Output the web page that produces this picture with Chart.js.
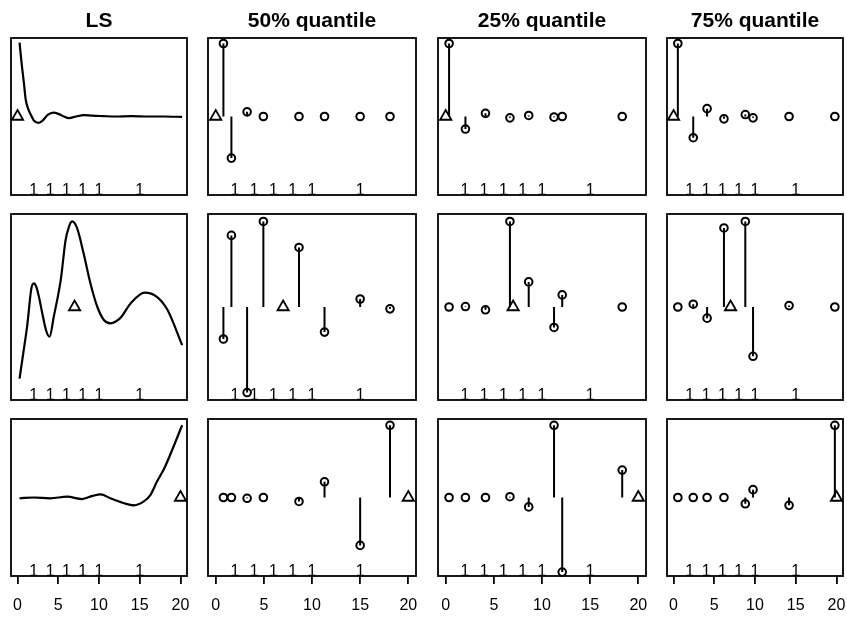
<!DOCTYPE html>
<html>
<head>
<meta charset="utf-8">
<script src="https://cdn.jsdelivr.net/npm/chart.js@4.4.0/dist/chart.umd.min.js"></script>
<style>
  body { margin: 0; background: #fff; }
  #wrap { position: relative; width: 847px; height: 617px; overflow: hidden; }
  #wrap canvas { position: absolute; }
</style>
</head>
<body>
<div id="wrap"></div>
<script>
// column titles and axis
const titles = ['LS', '50% quantile', '25% quantile', '75% quantile'];
const xTicks = [0, 5, 10, 15, 20];
const rugX = [2, 4, 6, 8, 10, 15];
// triangle (true location) for each row
const targetX = [0, 7, 20];
const targetY = [0, 0, 0];

// LS curves, one per row
const lsX1 = [0.25, 0.5, 0.78, 1.0, 1.3, 1.6, 2.0, 2.6, 3.1, 3.7, 4.4, 5.1, 5.7, 6.3, 7.2, 8.1, 9.2, 10.5, 12, 14, 16, 18, 20.2];
const lsY1 = [0.94, 0.68, 0.43, 0.22, 0.10, 0.03, -0.05, -0.08, -0.05, 0.02, 0.05, 0.03, 0.0, -0.02, 0.0, 0.017, 0.01, 0.005, 0.0, 0.005, 0.0, 0.0, -0.005];
const lsX2 = [0.25, 0.7, 1.19, 1.7, 2.0, 2.3, 2.6, 3.0, 3.5, 3.93, 4.46, 5.32, 5.9, 6.3, 6.7, 7.3, 8.1, 8.96, 9.8, 10.6, 11.4, 12.6, 13.9, 15.6, 17.1, 18.4, 20.2];
const lsY2 = [-0.77, -0.50, -0.20, 0.20, 0.255, 0.22, 0.12, -0.05, -0.25, -0.32, -0.10, 0.30, 0.72, 0.86, 0.92, 0.85, 0.58, 0.25, 0.0, -0.14, -0.175, -0.12, 0.04, 0.154, 0.11, -0.03, -0.41];
const lsX3 = [0.25, 2, 4, 6.1, 7.9, 9.2, 10.2, 11.4, 13.0, 14.3, 15.5, 16.3, 17.1, 18.0, 18.8, 20.2];
const lsY3 = [-0.01, 0.0, -0.01, 0.01, -0.02, 0.02, 0.04, -0.01, -0.07, -0.10, -0.05, 0.03, 0.20, 0.37, 0.56, 0.92];

// quantile estimates (circles with stems), one x list per column
const q50X = [0.8, 1.63, 3.26, 4.95, 8.65, 11.3, 15.0, 18.1];
const q50Y1 = [0.93, -0.53, 0.06, 0, 0, 0, 0, 0];
const q50Y2 = [-0.344, 0.77, -0.92, 0.92, 0.64, -0.27, 0.086, -0.02];
const q50Y3 = [0, 0, -0.01, 0, -0.05, 0.20, -0.61, 0.92];

const q25X = [0.35, 2.05, 4.13, 6.67, 8.62, 11.25, 12.1, 18.33];
const q25Y1 = [0.93, -0.16, 0.04, -0.017, 0.013, -0.008, 0, 0];
const q25Y2 = [0, 0.005, -0.03, 0.92, 0.27, -0.22, 0.13, 0];
const q25Y3 = [0, 0, 0, 0.01, -0.12, 0.92, -0.95, 0.35];

const q75X = [0.53, 2.42, 4.12, 6.19, 8.81, 9.76, 14.18, 19.8];
const q75Y1 = [0.93, -0.27, 0.10, -0.03, 0.025, -0.017, 0, 0];
const q75Y2 = [0, 0.03, -0.12, 0.85, 0.92, -0.53, 0.015, 0];
const q75Y3 = [0, 0, 0, 0, -0.08, 0.10, -0.10, 0.92];

const lsX = [lsX1, lsX2, lsX3];
const lsY = [lsY1, lsY2, lsY3];
const qX = [q50X, q25X, q75X];
const qY = [[q50Y1, q50Y2, q50Y3], [q25Y1, q25Y2, q25Y3], [q75Y1, q75Y2, q75Y3]];

// panel boxes (px)
const colLeft = [11, 208, 438, 667];
const colW = [176, 208, 208, 176];
const rowTop = [38, 214, 419];
const rowH = [157, 186, 157];
const M = 10;
const FONT = "'Liberation Sans', Arial, sans-serif";

const boxPlugin = {
  id: 'box',
  afterDatasetsDraw(chart) {
    const a = chart.chartArea, ctx = chart.ctx;
    ctx.save();
    ctx.strokeStyle = '#000';
    ctx.lineWidth = 1.8;
    ctx.strokeRect(a.left, a.top, a.right - a.left, a.bottom - a.top);
    ctx.restore();
  }
};

const rugPlugin = {
  id: 'rug',
  afterDatasetsDraw(chart) {
    const x = chart.scales.x, ctx = chart.ctx;
    ctx.save();
    ctx.fillStyle = '#000';
    ctx.font = '16px ' + FONT;
    ctx.textAlign = 'center';
    ctx.textBaseline = 'alphabetic';
    rugX.forEach(v => ctx.fillText('1', x.getPixelForValue(v), chart.chartArea.bottom - 0.5));
    ctx.restore();
  }
};

function pts(xs, ys) {
  return xs.map((x, i) => ({ x: x, y: ys[i] }));
}

function stems(xs, ys) {
  const out = [];
  xs.forEach((x, i) => {
    out.push({ x: x, y: 0 }, { x: x, y: ys[i] }, { x: x, y: null });
  });
  return out;
}

const wrap = document.getElementById('wrap');

for (let r = 0; r < 3; r++) {
  for (let c = 0; c < 4; c++) {
    const top = r === 0 ? 0 : rowTop[r] - M;
    const bottom = r === 2 ? rowTop[r] + rowH[r] + 53 : rowTop[r] + rowH[r] + M;
    const cv = document.createElement('canvas');
    cv.width = colW[c] + 2 * M;
    cv.height = bottom - top;
    cv.style.left = (colLeft[c] - M) + 'px';
    cv.style.top = top + 'px';
    wrap.appendChild(cv);

    const datasets = [];
    if (c === 0) {
      datasets.push({
        data: pts(lsX[r], lsY[r]),
        borderColor: '#000', borderWidth: 2.2, pointRadius: 0,
        cubicInterpolationMode: 'monotone', clip: false
      });
    } else {
      const xs = qX[c - 1], ys = qY[c - 1][r];
      datasets.push({
        data: stems(xs, ys),
        borderColor: '#000', borderWidth: 2, pointRadius: 0,
        spanGaps: false, clip: false
      });
      datasets.push({
        data: pts(xs, ys),
        showLine: false, pointStyle: 'circle', pointRadius: 3.8,
        pointBorderWidth: 2, pointBorderColor: '#000',
        pointBackgroundColor: 'rgba(0,0,0,0)', clip: false
      });
    }
    datasets.push({
      data: [{ x: targetX[r], y: targetY[r] }],
      showLine: false, pointStyle: 'triangle', pointRadius: 6.5,
      pointBorderWidth: 1.8, pointBorderColor: '#000',
      pointBackgroundColor: 'rgba(0,0,0,0)', clip: false
    });

    new Chart(cv, {
      type: 'line',
      data: { datasets: datasets },
      options: {
        responsive: false,
        animation: false,
        events: [],
        layout: { padding: { left: M, right: M, top: r === 0 ? 0 : M, bottom: r === 2 ? 1.8 : M } },
        plugins: {
          legend: { display: false },
          tooltip: { enabled: false },
          title: {
            display: r === 0,
            text: titles[c],
            color: '#000',
            font: { family: FONT, size: 21, weight: 'bold', lineHeight: 1.2 },
            padding: { top: 8.4, bottom: 4.4 }
          }
        },
        scales: {
          x: {
            type: 'linear', min: -0.8, max: 20.8,
            display: r === 2,
            afterBuildTicks: s => { s.ticks = xTicks.map(v => ({ value: v })); },
            afterFit: s => { s.paddingLeft = 0; s.paddingRight = 0; },
            grid: { drawOnChartArea: false, drawTicks: true, tickLength: 8, color: '#000', lineWidth: 1.8 },
            border: { display: false },
            ticks: { color: '#000', font: { family: FONT, size: 16 }, padding: 12, maxRotation: 0, autoSkip: false }
          },
          y: { type: 'linear', min: -1, max: 1, display: false }
        }
      },
      plugins: [boxPlugin, rugPlugin]
    });
  }
}
</script>
</body>
</html>
